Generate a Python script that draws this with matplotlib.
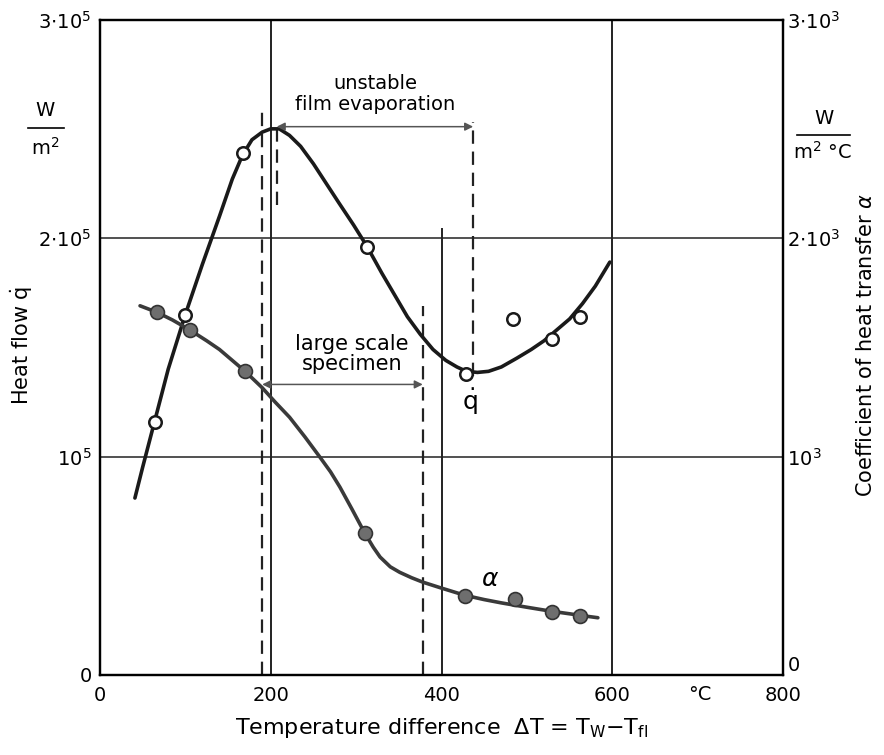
import matplotlib.pyplot as plt
from matplotlib.lines import Line2D

# heat flow curve (x in degC, y in 1e5 W/m2)
q_curve_x = [41, 50, 64, 80, 100, 120, 140, 155, 167, 178, 190, 200, 210, 222, 235, 250, 265, 280, 297, 313,
             330, 345, 360, 375, 390, 405, 418, 429, 442, 455, 470, 488, 505, 520, 535, 550, 565, 580, 597]
q_curve_y = [0.81, 0.95, 1.16, 1.40, 1.65, 1.88, 2.10, 2.27, 2.38, 2.45, 2.485, 2.50, 2.50, 2.47, 2.42, 2.34, 2.25, 2.16, 2.06, 1.96,
             1.84, 1.74, 1.64, 1.56, 1.49, 1.44, 1.41, 1.39, 1.385, 1.39, 1.41, 1.45, 1.49, 1.53, 1.58, 1.63, 1.70, 1.78, 1.89]
q_meas_x = [64, 100, 167, 313, 429, 484, 529, 562]
q_meas_y = [1.16, 1.65, 2.39, 1.96, 1.38, 1.63, 1.54, 1.64]

# heat transfer coefficient (x in degC, y in W/m2C)
a_curve_x = [47, 57, 67, 85, 105, 125, 140, 155, 170, 190, 205, 222, 240, 258, 270, 281, 295, 310, 320, 328,
             340, 351, 365, 378, 398, 427, 450, 470, 500, 528, 550, 562, 583]
a_curve_y = [1690, 1675, 1660, 1625, 1580, 1530, 1490, 1440, 1390, 1315, 1250, 1180, 1090, 995, 930, 860, 760, 650, 585, 540,
             495, 470, 445, 425, 400, 365, 345, 330, 310, 292, 280, 273, 262]
a_meas_x = [67, 105, 170, 310, 427, 486, 529, 562]
a_meas_y = [1660, 1580, 1390, 650, 360, 350, 290, 270]

fig = plt.figure(figsize=(8.84, 7.55), dpi=100)
ax = fig.add_axes([0.113, 0.106, 0.773, 0.868])
ax.set_xlim(0, 800)
ax.set_ylim(0, 3)
ax2 = ax.twinx()
ax2.set_ylim(0, 3000)

for s in ax.spines.values():
    s.set_linewidth(1.6)
for s in ax2.spines.values():
    s.set_linewidth(1.6)

fs = 14
ax.set_xticks([0, 200, 400, 600, 800])
ax.set_xticklabels(['0', '200', '400', '600', '800'], fontsize=fs)
ax.set_yticks([0, 1, 2, 3])
ax.set_yticklabels(['0', r'$10^5$', r'$2{\cdot}10^5$', r'$3{\cdot}10^5$'], fontsize=fs)
ax2.set_yticks([0, 1000, 2000, 3000])
ax2.set_yticklabels(['0', r'$10^3$', r'$2{\cdot}10^3$', r'$3{\cdot}10^3$'], fontsize=fs)
ax.tick_params(axis='y', length=0, pad=6)
ax.tick_params(axis='x', length=0, pad=8)
ax2.tick_params(length=0, pad=3)
ax2.get_yticklabels()[0].set_va('bottom')

# grid lines
lc = '#222222'
ax.axhline(1, color=lc, lw=1.1)
ax.axhline(2, color=lc, lw=1.1)
ax.axvline(200, color=lc, lw=1.4)
ax.axvline(600, color=lc, lw=1.4)
ax.plot([400, 400], [0, 2.04], color=lc, lw=1.4)

# dashed limits
dash = dict(color=lc, lw=1.6, linestyle=(0, (6, 3.5)))
ax.plot([190, 190], [0, 2.60], **dash)
ax.plot([207, 207], [2.15, 2.53], **dash)
ax.plot([437, 437], [1.37, 2.53], **dash)
ax.plot([378, 378], [0, 1.69], **dash)

# curves
ax.plot(q_curve_x, q_curve_y, color='#1a1a1a', lw=2.6, solid_capstyle='round', solid_joinstyle='round', zorder=3)
ax.plot(q_meas_x, q_meas_y, 'o', ms=9, mfc='white', mec='#1a1a1a', mew=1.8, zorder=4)
ax2.plot(a_curve_x, a_curve_y, color='#3a3a3a', lw=2.6, solid_capstyle='round', solid_joinstyle='round', zorder=3)
ax2.plot(a_meas_x, a_meas_y, 'o', ms=10, mfc='#6e6e6e', mec='#333333', mew=1.2, zorder=4)

# arrows
arr = dict(arrowstyle='<|-|>', color='#555555', lw=1.1, mutation_scale=12, shrinkA=0, shrinkB=0)
ax.annotate('', xy=(207, 2.51), xytext=(437, 2.51), arrowprops=arr)
ax.annotate('', xy=(190, 1.33), xytext=(378, 1.33), arrowprops=arr)

ax.text(322, 2.66, 'unstable\nfilm evaporation', ha='center', va='center', fontsize=fs, linespacing=1.1)
ax.text(295, 1.47, 'large scale\nspecimen', ha='center', va='center', fontsize=fs + 1, linespacing=1.0)
ax.text(433, 1.25, r'$\dot{\mathrm{q}}$', ha='center', va='center', fontsize=fs + 4)
ax.text(457, 0.44, r'$\alpha$', ha='center', va='center', fontsize=fs + 4)

# labels
ax.set_xlabel(r'Temperature difference  $\Delta$T = T$_\mathrm{W}$$-$T$_\mathrm{fl}$', fontsize=fs + 2, labelpad=8)
fig.text(700 / 884, 1 - 694 / 755, '°C', ha='center', va='center', fontsize=fs)
fig.text(22 / 884, 1 - 345 / 755, r'Heat flow $\dot{\mathrm{q}}$', rotation=90, ha='center', va='center', fontsize=fs + 1)
fig.text(866 / 884, 1 - 345 / 755, r'Coefficient of heat transfer $\alpha$', rotation=90, ha='center', va='center', fontsize=fs + 1)

# units
fig.text(45 / 884, 1 - 110 / 755, 'W', ha='center', va='center', fontsize=fs)
fig.add_artist(Line2D([28 / 884, 64 / 884], [1 - 128 / 755, 1 - 128 / 755], color='black', lw=1.2))
fig.text(45 / 884, 1 - 148 / 755, 'm$^2$', ha='center', va='center', fontsize=fs)
fig.text(824 / 884, 1 - 118 / 755, 'W', ha='center', va='center', fontsize=fs)
fig.add_artist(Line2D([797 / 884, 850 / 884], [1 - 135 / 755, 1 - 135 / 755], color='black', lw=1.2))
fig.text(822 / 884, 1 - 152 / 755, 'm$^2$ °C', ha='center', va='center', fontsize=fs)

fig.savefig('out.png', dpi=100)
